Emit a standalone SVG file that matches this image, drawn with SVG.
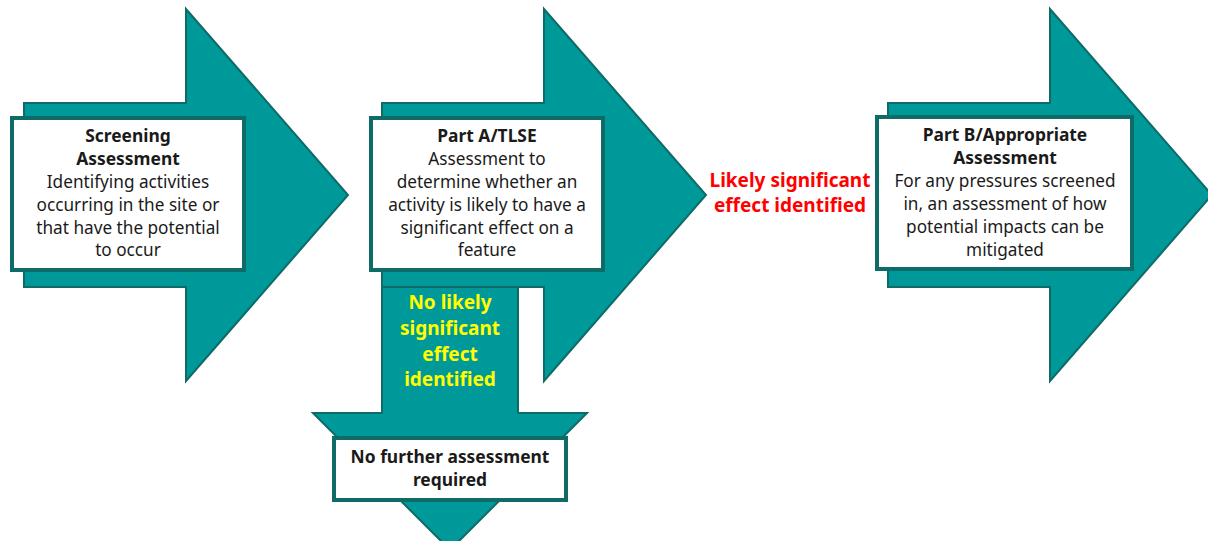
<svg xmlns="http://www.w3.org/2000/svg" width="1208" height="541" viewBox="0 0 1208 541">
<style>
.arrow{fill:#009999;stroke:#0e6b68;stroke-width:2;stroke-linejoin:miter}
.box{fill:#ffffff;stroke:#0e6b68;stroke-width:4}
text{font-family:"Noto Sans","Open Sans",sans-serif;text-anchor:middle;fill:#1a1a1a}
.t{font-size:17.2px}
.b{font-size:17.4px;font-weight:bold}
.red{font-size:19px;font-weight:bold;fill:#ff0000}
.yel{font-size:19px;font-weight:bold;fill:#ffff00}
</style>
<rect width="1208" height="541" fill="#ffffff"/>
<g id="connectors">
<polygon class="arrow" points="24,103 186,103 186,9 348,195 186,381 186,287 24,287"/>
<polygon class="arrow" points="382,103 544,103 544,9 706,195 544,381 544,287 382,287"/>
<polygon class="arrow" points="382,287 518,287 518,413 587,413 450,550 313,413 382,413"/>
<polygon class="arrow" points="888,103 1050,103 1050,9 1212,195 1050,381 1050,287 888,287"/>
</g>
<g id="screening">
<rect class="box" x="12" y="118" width="232" height="152"/>
<text class="b" x="128" y="142">Screening</text>
<text class="b" x="128" y="165">Assessment</text>
<text class="t" x="128" y="188">Identifying activities</text>
<text class="t" x="128" y="211">occurring in the site or</text>
<text class="t" x="128" y="234">that have the potential</text>
<text class="t" x="128" y="256">to occur</text>
</g>
<g id="partA">
<rect class="box" x="371" y="118" width="232" height="152"/>
<text class="b" x="487" y="142">Part A/TLSE</text>
<text class="t" x="487" y="165">Assessment to</text>
<text class="t" x="487" y="188">determine whether an</text>
<text class="t" x="487" y="211">activity is likely to have a</text>
<text class="t" x="487" y="234">significant effect on a</text>
<text class="t" x="487" y="256">feature</text>
</g>
<g id="likely">
<text class="red" x="790" y="187">Likely significant</text>
<text class="red" x="790" y="212">effect identified</text>
</g>
<g id="nolikely">
<text class="yel" x="450" y="309">No likely</text>
<text class="yel" x="450" y="335">significant</text>
<text class="yel" x="450" y="361">effect</text>
<text class="yel" x="450" y="386">identified</text>
</g>
<g id="nofurther">
<rect class="box" x="334" y="438" width="232" height="62"/>
<text class="b" x="450" y="463">No further assessment</text>
<text class="b" x="450" y="486">required</text>
</g>
<g id="partB">
<rect class="box" x="877" y="117" width="255" height="152"/>
<text class="b" x="1005" y="141">Part B/Appropriate</text>
<text class="b" x="1005" y="164">Assessment</text>
<text class="t" x="1005" y="187">For any pressures screened</text>
<text class="t" x="1005" y="210">in, an assessment of how</text>
<text class="t" x="1005" y="233">potential impacts can be</text>
<text class="t" x="1005" y="256">mitigated</text>
</g>
</svg>
